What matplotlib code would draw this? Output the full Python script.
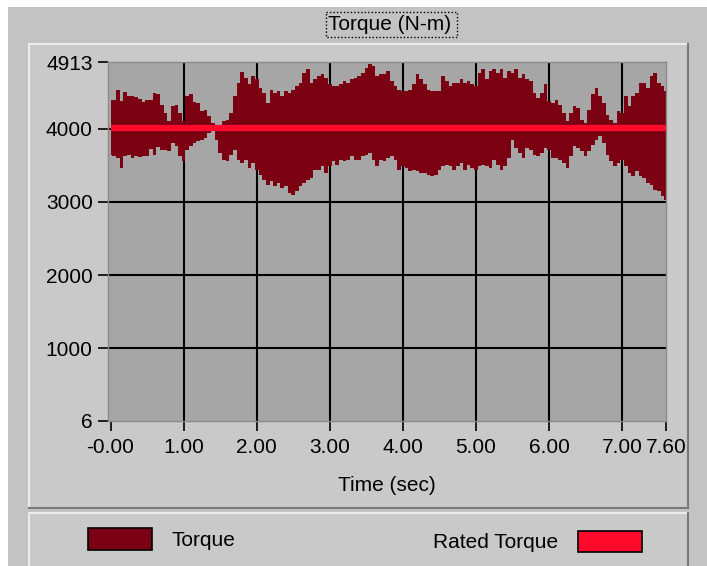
import numpy as np
import matplotlib
matplotlib.use('Agg')
import matplotlib.pyplot as plt
from matplotlib.patches import Rectangle

plt.rcParams['font.family'] = ['Liberation Sans', 'DejaVu Sans']

# ---------------- data ----------------
time_s = np.round(np.arange(0, 7.6001, 0.05), 2)

torque_upper = [
    4400, 4400, 4528, 4378, 4505, 4455, 4455, 4437, 4410, 4364,
    4391, 4400, 4483, 4469, 4332, 4218, 4104, 4309, 4332, 4218,
    4104, 4446, 4469, 4364, 4355, 4241, 4263, 4172, 4081, 4045,
    4058, 4104, 4126, 4218, 4446, 4629, 4775, 4697, 4606, 4720,
    4674, 4560, 4492, 4355, 4537, 4492, 4514, 4446, 4514, 4492,
    4537, 4583, 4629, 4765, 4820, 4629, 4674, 4720, 4743, 4697,
    4606, 4583, 4583, 4606, 4651, 4629, 4674, 4697, 4720, 4765,
    4834, 4880, 4857, 4720, 4743, 4743, 4788, 4651, 4583, 4537,
    4514, 4514, 4537, 4606, 4743, 4674, 4606, 4537, 4514, 4514,
    4514, 4720, 4651, 4583, 4629, 4629, 4674, 4629, 4651, 4606,
    4583, 4765, 4811, 4674, 4788, 4820, 4765, 4811, 4697, 4788,
    4765, 4811, 4697, 4743, 4674, 4651, 4492, 4423, 4492, 4606,
    4378, 4355, 4400, 4332, 4218, 4104, 4218, 4309, 4286, 4126,
    4081, 4263, 4469, 4560, 4446, 4355, 4195, 4126, 4081, 4241,
    4218, 4446, 4309, 4446, 4492, 4629, 4629, 4560, 4720, 4765,
    4629, 4583, 4514,
]

torque_lower = [
    3648, 3625, 3602, 3465, 3625, 3648, 3602, 3625, 3616, 3634,
    3625, 3725, 3648, 3752, 3716, 3716, 3693, 3807, 3762, 3625,
    3556, 3716, 3762, 3807, 3830, 3852, 3876, 3944, 3967, 3852,
    3670, 3579, 3556, 3648, 3716, 3579, 3534, 3579, 3465, 3534,
    3442, 3374, 3305, 3237, 3282, 3214, 3260, 3191, 3214, 3123,
    3100, 3146, 3214, 3260, 3305, 3328, 3442, 3442, 3488, 3397,
    3488, 3556, 3511, 3579, 3556, 3579, 3625, 3579, 3579, 3625,
    3648, 3670, 3579, 3488, 3579, 3556, 3602, 3625, 3579, 3442,
    3488, 3465, 3419, 3442, 3419, 3397, 3397, 3374, 3351, 3374,
    3442, 3488, 3511, 3488, 3442, 3488, 3534, 3442, 3511, 3465,
    3442, 3488, 3511, 3488, 3465, 3579, 3511, 3442, 3488, 3602,
    3852, 3739, 3670, 3602, 3739, 3716, 3648, 3625, 3670, 3739,
    3716, 3602, 3602, 3579, 3534, 3465, 3625, 3762, 3739, 3693,
    3625, 3693, 3784, 3852, 3898, 3807, 3648, 3556, 3488, 3534,
    3579, 3488, 3397, 3351, 3420, 3351, 3328, 3260, 3237, 3168,
    3146, 3077, 3031,
]

rated_torque = 4010

y_ticks = [6, 1000, 2000, 3000, 4000, 4913]
y_grid = [1000, 2000, 3000, 4000]
x_ticks = [0, 1, 2, 3, 4, 5, 6, 7, 7.6]
x_grid = [1, 2, 3, 4, 5, 6, 7]
x_tick_labels = ['-0.00', '1.00', '2.00', '3.00', '4.00', '5.00', '6.00', '7.00', '7.60']
series_names = ['Torque', 'Rated Torque']
title_text = 'Torque (N-m)'
x_label = 'Time (sec)'

# ---------------- style ----------------
torque_color = '#7b0012'
rated_color = '#ff0a2a'
plot_bg = '#a6a6a6'
outer_bg = '#c3c3c3'
panel_bg = '#c9c9c9'
light_edge = '#ececec'
dark_edge = '#7a7a7a'
FS = 15

W, H = 707, 566
fig = plt.figure(figsize=(W / 100, H / 100), dpi=100, facecolor='white')

# background / frame drawn in pixel coordinates
bg = fig.add_axes([0, 0, 1, 1], zorder=0)
bg.set_xlim(0, W)
bg.set_ylim(H, 0)
bg.axis('off')
bg.add_patch(Rectangle((8, 7), W - 8, H - 7, fc=outer_bg, ec='none'))

# graph panel
bg.add_patch(Rectangle((29, 44), 659, 464, fc=panel_bg, ec='none'))
bg.plot([29, 688], [44, 44], color=light_edge, lw=1.5)
bg.plot([29, 29], [44, 508], color=light_edge, lw=1.5)
bg.plot([688, 688], [44, 508], color=dark_edge, lw=1.5)
bg.plot([29, 688], [508, 508], color=dark_edge, lw=1.5)

# legend panel
bg.add_patch(Rectangle((29, 513), 659, H - 513, fc=panel_bg, ec='none'))
bg.plot([29, 688], [513, 513], color=light_edge, lw=1.5)
bg.plot([29, 29], [513, H], color=light_edge, lw=1.5)
bg.plot([688, 688], [513, H], color=dark_edge, lw=1.5)

# title with dotted focus box
bg.text(390, 25, title_text, fontsize=FS, ha='center', va='center')
bg.add_patch(Rectangle((326, 12), 131, 25, fc='none', ec='black', ls=(0, (1, 1.5)), lw=1))

# legend
bg.add_patch(Rectangle((88, 528), 64, 22, fc=torque_color, ec='black', lw=1.2))
bg.text(172, 540, series_names[0], fontsize=FS, va='center', ha='left')
bg.add_patch(Rectangle((578, 531), 64, 21, fc=rated_color, ec='black', lw=1.2))
bg.text(558, 542, series_names[1], fontsize=FS, va='center', ha='right')

# ---------------- main plot ----------------
ax = fig.add_axes([108 / W, 1 - 421 / H, 558 / W, 359 / H], zorder=2)
ax.set_facecolor(plot_bg)

ax.vlines(x_grid, y_ticks[0], y_ticks[-1], color='black', lw=1.5, zorder=1)
ax.hlines(y_grid, -0.1, 7.7, color='black', lw=1.5, zorder=1)

ax.fill_between(time_s, torque_lower, torque_upper, step='mid',
                color=torque_color, lw=0, zorder=2)
ax.plot(time_s, np.full(len(time_s), rated_torque), color=rated_color,
        lw=4.5, solid_capstyle='butt', zorder=3)

ax.set_xlim(-0.035, 7.6)
ax.set_ylim(y_ticks[0], y_ticks[-1])
ax.set_xticks(x_ticks)
ax.set_xticklabels(x_tick_labels)
ax.set_yticks(y_ticks)
ax.set_yticklabels([str(v) for v in y_ticks])
ax.tick_params(axis='both', direction='out', length=7, width=1.2,
               color='black', labelsize=FS)
ax.tick_params(axis='x', pad=5)
ax.tick_params(axis='y', pad=4)
for s in ax.spines.values():
    s.set_color('#8a8a8a')
    s.set_linewidth(1)

ax.set_xlabel(x_label, fontsize=FS, labelpad=14)

fig.savefig('out.png', dpi=100, facecolor=fig.get_facecolor())
